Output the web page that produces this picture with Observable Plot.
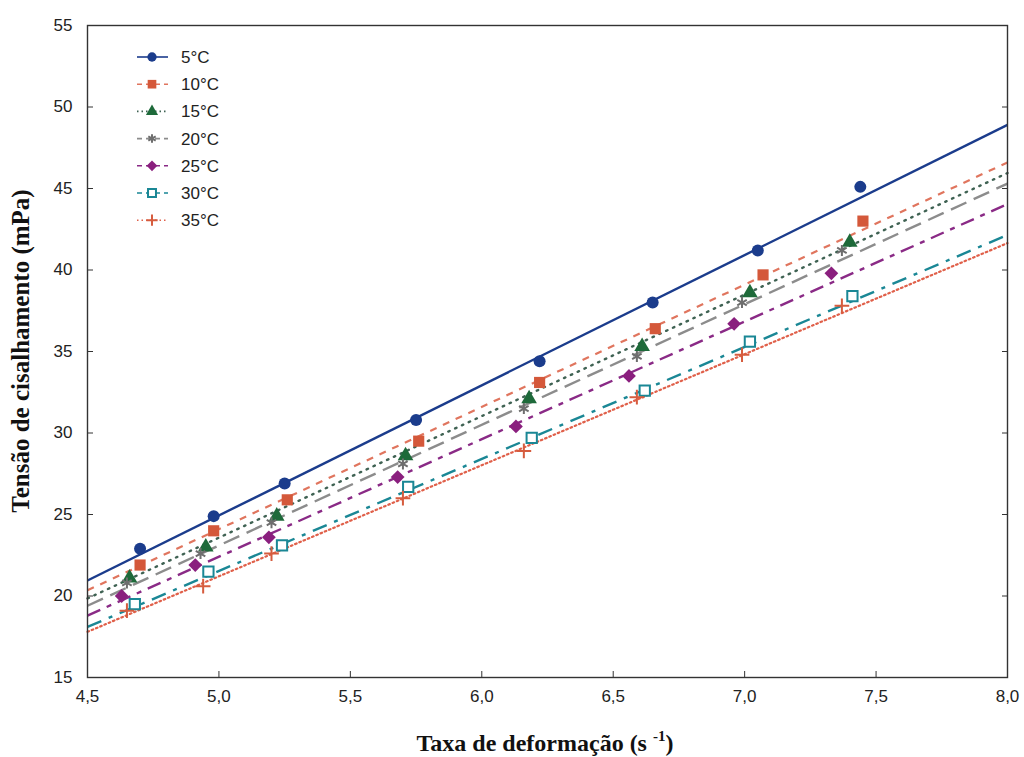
<!DOCTYPE html>
<html>
<head>
<meta charset="utf-8">
<script src="https://cdn.jsdelivr.net/npm/d3@7"></script>
<script src="https://cdn.jsdelivr.net/npm/@observablehq/plot@0.6"></script>
<style>
  html, body { margin: 0; padding: 0; background: #fff; }
  #wrap { position: relative; width: 1024px; height: 757px; }
  #over { position: absolute; left: 0; top: 0; pointer-events: none; }
</style>
</head>
<body>
<div id="wrap"></div>
<script>
// ---- data ----
const temps = ["5°C", "10°C", "15°C", "20°C", "25°C", "30°C", "35°C"];

const rate5  = [4.70, 4.98, 5.25, 5.75, 6.22, 6.65, 7.05, 7.44];
const rate10 = [4.70, 4.98, 5.26, 5.76, 6.22, 6.66, 7.07, 7.45];
const rate15 = [4.66, 4.95, 5.22, 5.71, 6.18, 6.61, 7.02, 7.40];
const rate20 = [4.65, 4.93, 5.20, 5.70, 6.16, 6.59, 6.99, 7.37];
const rate25 = [4.63, 4.91, 5.19, 5.68, 6.13, 6.56, 6.96, 7.33];
const rate30 = [4.68, 4.96, 5.24, 5.72, 6.19, 6.62, 7.02, 7.41];
const rate35 = [4.65, 4.94, 5.20, 5.70, 6.16, 6.59, 6.99, 7.37];

const stress5  = [22.9, 24.9, 26.9, 30.8, 34.4, 38.0, 41.2, 45.1];
const stress10 = [21.9, 24.0, 25.9, 29.5, 33.1, 36.4, 39.7, 43.0];
const stress15 = [21.1, 23.0, 24.9, 28.6, 32.1, 35.3, 38.6, 41.7];
const stress20 = [20.8, 22.6, 24.5, 28.1, 31.5, 34.7, 38.0, 41.2];
const stress25 = [20.0, 21.9, 23.6, 27.3, 30.4, 33.5, 36.7, 39.8];
const stress30 = [19.5, 21.5, 23.1, 26.7, 29.7, 32.6, 35.6, 38.4];
const stress35 = [19.1, 20.6, 22.6, 26.0, 28.9, 32.2, 34.8, 37.8];

// fitted lines: value at start and end of the fitted range
const fitRange = [4.5, 8.0];
const fitStart = [20.95, 20.35, 19.85, 19.4, 18.8, 18.1, 17.8];
const fitEnd   = [48.9, 46.6, 45.95, 45.3, 44.05, 42.15, 41.65];

const xTicks = [4.5, 5.0, 5.5, 6.0, 6.5, 7.0, 7.5, 8.0];
const yTicks = [15, 20, 25, 30, 35, 40, 45, 50, 55];

// ---- styles ----
const styles = [
  {symbol: "circle",   mcolor: "#1b3c8c", filled: true,  lcolor: "#1b3c8c", dash: null,           lw: 2.4, r: 6},
  {symbol: "square",   mcolor: "#d4583a", filled: true,  lcolor: "#e0755e", dash: "7,7",          lw: 2.2, r: 6.3},
  {symbol: "triangle", mcolor: "#1e6a3a", filled: true,  lcolor: "#3f6253", dash: "1.5,6",        lw: 2.4, r: 5.8},
  {symbol: "asterisk", mcolor: "#6e6e6e", filled: false, lcolor: "#8c8c8c", dash: "17,8",         lw: 2.4, r: 5.2},
  {symbol: "diamond2", mcolor: "#8a1f7e", filled: true,  lcolor: "#8a2a86", dash: "14,7,5,7",     lw: 2.4, r: 6.2},
  {symbol: "square",   mcolor: "#1a8795", filled: false, lcolor: "#1a8795", dash: "15,8,4,8",     lw: 2.4, r: 5.8},
  {symbol: "plus",     mcolor: "#d65c3e", filled: false, lcolor: "#e0604a", dash: "1.6,3",        lw: 2.2, r: 4.8}
];

const rates = [rate5, rate10, rate15, rate20, rate25, rate30, rate35];
const stresses = [stress5, stress10, stress15, stress20, stress25, stress30, stress35];

const points = temps.flatMap((t, i) => rates[i].map((x, j) => ({temp: t, i, rate: x, stress: stresses[i][j]})));
const fits = temps.flatMap((t, i) => [
  {temp: t, i, rate: fitRange[0], stress: fitStart[i]},
  {temp: t, i, rate: fitRange[1], stress: fitEnd[i]}
]);

const comma = d => d3.format(".1f")(d).replace(".", ",");

const marks = [];
temps.forEach((t, i) => {
  const s = styles[i];
  marks.push(Plot.line(fits.filter(d => d.i === i), {
    x: "rate", y: "stress", stroke: s.lcolor, strokeWidth: s.lw,
    strokeDasharray: s.dash, strokeLinecap: s.dash && s.dash.startsWith("1.") ? "round" : "butt"
  }));
});
temps.forEach((t, i) => {
  const s = styles[i];
  const pts = points.filter(d => d.i === i);
  if (s.filled) {
    marks.push(Plot.dot(pts, {x: "rate", y: "stress", symbol: () => s.symbol, r: s.r, fill: s.mcolor, stroke: "none"}));
  } else {
    marks.push(Plot.dot(pts, {x: "rate", y: "stress", symbol: () => s.symbol, r: s.r, fill: s.symbol === "square" ? "white" : "none", stroke: s.mcolor, strokeWidth: 2}));
  }
});

const chart = Plot.plot({
  width: 1024,
  height: 757,
  marginLeft: 87,
  marginRight: 17,
  marginTop: 25,
  marginBottom: 80,
  style: {fontFamily: "'Liberation Sans', Arial, sans-serif", fontSize: "17px", color: "#222", background: "white"},
  x: {domain: [4.5, 8.0]},
  y: {domain: [15, 55]},
  symbol: {type: "identity"},
  marks: [
    ...marks,
    Plot.frame({stroke: "#333", strokeWidth: 1.4}),
    Plot.axisX(xTicks, {anchor: "bottom", tickSize: 0, tickPadding: 12, tickFormat: comma, label: null, fontSize: 17}),
    Plot.axisX(xTicks, {anchor: "bottom", tickSize: -6, tickFormat: () => "", label: null, stroke: "#333"}),
    Plot.axisY(yTicks, {anchor: "left", tickSize: 0, tickPadding: 15, tickFormat: d => String(d), label: null, fontSize: 17}),
    Plot.axisY(yTicks, {anchor: "left", tickSize: -6, tickFormat: () => "", label: null, stroke: "#333"}),
    Plot.axisY(yTicks, {anchor: "right", tickSize: -6, tickFormat: () => "", label: null, stroke: "#333"})
  ]
});

const wrap = document.getElementById("wrap");
wrap.appendChild(chart);

// ---- overlay: axis titles + legend ----
const svg = d3.select(wrap).append("svg").attr("id", "over").attr("width", 1024).attr("height", 757);

const serif = "'Liberation Serif', 'Times New Roman', serif";
const xt = svg.append("text")
  .attr("x", 545).attr("y", 751)
  .attr("text-anchor", "middle")
  .attr("font-family", serif).attr("font-weight", "bold").attr("font-size", 24).attr("fill", "#111");
xt.append("tspan").text("Taxa de deformação (s ");
xt.append("tspan").attr("font-size", 15).attr("dy", -10).text("-1");
xt.append("tspan").attr("dy", 10).text(")");

svg.append("text")
  .attr("transform", "translate(29,351) rotate(-90)")
  .attr("text-anchor", "middle")
  .attr("font-family", serif).attr("font-weight", "bold").attr("font-size", 25).attr("fill", "#111")
  .text("Tensão de cisalhamento (mPa)");

const symMap = {circle: d3.symbolCircle, square: d3.symbolSquare, triangle: d3.symbolTriangle, asterisk: d3.symbolAsterisk, diamond2: d3.symbolDiamond2, plus: d3.symbolPlus};
const leg = svg.append("g").attr("font-family", "'Liberation Sans', Arial, sans-serif").attr("font-size", 17).attr("fill", "#222");
temps.forEach((t, i) => {
  const s = styles[i];
  const y = 57 + i * 27.2;
  leg.append("line").attr("x1", 137).attr("x2", 168).attr("y1", y).attr("y2", y)
    .attr("stroke", s.lcolor).attr("stroke-width", 1.6)
    .attr("stroke-dasharray", s.dash ? (i === 2 || i === 6 ? "1.5,3" : "5,4") : null);
  const area = Math.PI * s.r * s.r * 0.6;
  leg.append("path").attr("transform", `translate(152,${y})`)
    .attr("d", d3.symbol(symMap[s.symbol], area)())
    .attr("fill", s.filled ? s.mcolor : (s.symbol === "square" ? "white" : "none"))
    .attr("stroke", s.filled ? "none" : s.mcolor).attr("stroke-width", 2);
  leg.append("text").attr("x", 181).attr("y", y).attr("dy", "0.35em").text(t);
});
</script>
</body>
</html>
